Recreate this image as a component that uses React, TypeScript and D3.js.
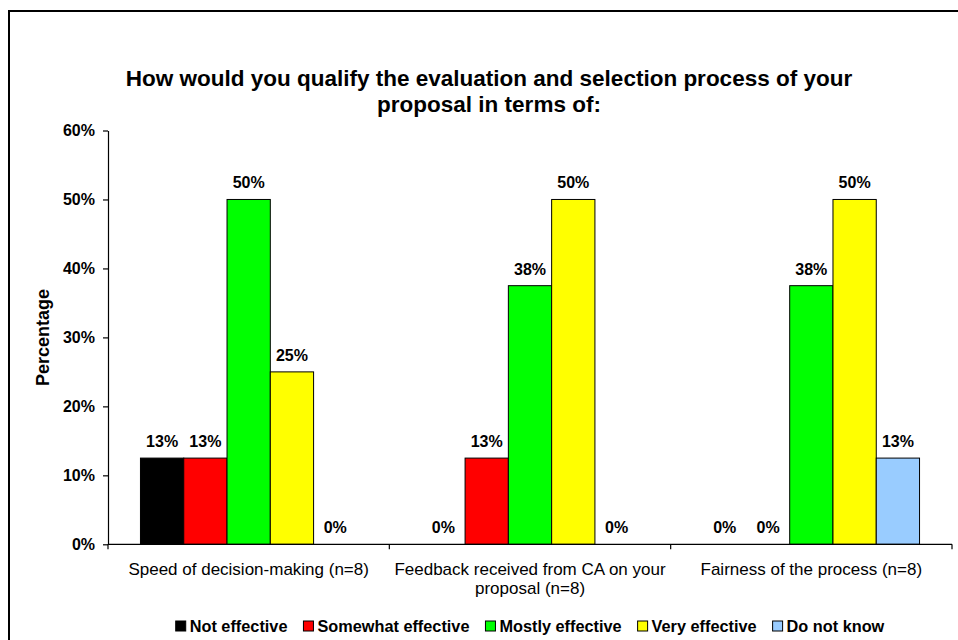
import React, { useEffect, useRef } from "react";
import * as d3 from "d3";

const categories = [
  "Speed of decision-making (n=8)",
  "Feedback received from CA on your proposal (n=8)",
  "Fairness of the process (n=8)",
];
const seriesNames = ["Not effective", "Somewhat effective", "Mostly effective", "Very effective", "Do not know"];
const seriesColors = ["#000000", "#FF0000", "#00FF00", "#FFFF00", "#99CCFF"];
const notEffective = [12.5, 0, 0];
const somewhatEffective = [12.5, 12.5, 0];
const mostlyEffective = [50, 37.5, 37.5];
const veryEffective = [25, 50, 50];
const doNotKnow = [0, 0, 12.5];
const yTicks = [0, 10, 20, 30, 40, 50, 60];
const titleLines = [
  "How would you qualify the evaluation and selection process of your",
  "proposal in terms of:",
];
const yAxisTitle = "Percentage";

const FONT = "'Liberation Sans', Arial, sans-serif";

export default function App() {
  const ref = useRef<SVGSVGElement>(null);

  useEffect(() => {
    const svg = d3.select(ref.current);
    svg.selectAll("*").remove();
    const left = 108, right = 952, top = 130.5, bottom = 544.3;
    const seriesValues = [notEffective, somewhatEffective, mostlyEffective, veryEffective, doNotKnow];

    // chart border
    svg.append("rect").attr("x", 9).attr("y", 11).attr("width", 1000).attr("height", 700)
      .attr("fill", "#fff").attr("stroke", "#000").attr("stroke-width", 2);

    // title
    const title = svg.append("text").attr("text-anchor", "middle").attr("font-family", FONT)
      .attr("font-weight", "bold").attr("font-size", 22.5).attr("fill", "#000");
    titleLines.forEach((t, i) => {
      title.append("tspan").attr("x", 489).attr("y", 86 + i * 26).text(t);
    });

    const x0 = d3.scaleBand<string>().domain(categories).range([left, right]).paddingInner(0).paddingOuter(0);
    const x1 = d3.scaleBand<string>().domain(seriesNames).range([0, x0.bandwidth()]).paddingInner(0).paddingOuter(0.75);
    const y = d3.scaleLinear().domain([0, 60]).range([bottom, top]);

    // bars
    const groups = svg.append("g");
    categories.forEach((cat, ci) => {
      seriesNames.forEach((s, si) => {
        const v = seriesValues[si][ci];
        const bx = (x0(cat) as number) + (x1(s) as number);
        if (v > 0) {
          groups.append("rect")
            .attr("x", bx).attr("y", y(v))
            .attr("width", x1.bandwidth()).attr("height", y(0) - y(v))
            .attr("fill", seriesColors[si]).attr("stroke", "#000").attr("stroke-width", 1);
        }
        groups.append("text")
          .attr("x", bx + x1.bandwidth() / 2).attr("y", y(v) - 11)
          .attr("text-anchor", "middle").attr("font-family", FONT).attr("font-weight", "bold")
          .attr("font-size", 16).attr("fill", "#000")
          .text(Math.round(v) + "%");
      });
    });

    // y axis
    const yAxis = d3.axisLeft(y).tickValues(yTicks).tickSize(5).tickSizeOuter(0).tickPadding(8)
      .tickFormat((d) => d + "%");
    const ya = svg.append("g").attr("transform", `translate(${left},0)`).call(yAxis as any);
    ya.select(".domain").attr("stroke", "#000").attr("stroke-width", 1.2);
    ya.selectAll(".tick line").attr("stroke", "#000").attr("stroke-width", 1.2);
    ya.selectAll(".tick text").attr("font-family", FONT).attr("font-weight", "bold")
      .attr("font-size", 16).attr("fill", "#000");

    // x axis
    const xa = svg.append("g");
    xa.append("line").attr("x1", left).attr("x2", right).attr("y1", bottom).attr("y2", bottom)
      .attr("stroke", "#000").attr("stroke-width", 1.2);
    const bounds = categories.map((c) => x0(c) as number).concat([right]);
    bounds.forEach((bx) => {
      xa.append("line").attr("x1", bx).attr("x2", bx).attr("y1", bottom).attr("y2", bottom + 5)
        .attr("stroke", "#000").attr("stroke-width", 1.2);
    });
    categories.forEach((cat) => {
      const cx = (x0(cat) as number) + x0.bandwidth() / 2;
      const t = xa.append("text").attr("text-anchor", "middle").attr("font-family", FONT)
        .attr("font-size", 17).attr("fill", "#000");
      const words = cat.split(" ");
      const maxW = x0.bandwidth() - 4;
      let line: string[] = [];
      let lineNo = 0;
      let tspan = t.append("tspan").attr("x", cx).attr("y", 575);
      words.forEach((w) => {
        line.push(w);
        tspan.text(line.join(" "));
        if ((tspan.node() as SVGTSpanElement).getComputedTextLength() > maxW && line.length > 1) {
          line.pop();
          tspan.text(line.join(" "));
          line = [w];
          lineNo++;
          tspan = t.append("tspan").attr("x", cx).attr("y", 575 + lineNo * 19).text(w);
        }
      });
    });

    // y axis title
    svg.append("text").attr("transform", `translate(49,${(top + bottom) / 2}) rotate(-90)`)
      .attr("text-anchor", "middle").attr("font-family", FONT).attr("font-weight", "bold")
      .attr("font-size", 18).attr("fill", "#000").text(yAxisTitle);

    // legend
    const lg = svg.append("g");
    const items = seriesNames.map((name, i) => {
      const g = lg.append("g");
      g.append("rect").attr("x", 0).attr("y", 621).attr("width", 10).attr("height", 10)
        .attr("fill", seriesColors[i]).attr("stroke", "#000").attr("stroke-width", 1);
      const tx = g.append("text").attr("x", 14).attr("y", 632).attr("font-family", FONT)
        .attr("font-weight", "bold").attr("font-size", 16.3).attr("fill", "#000").text(name);
      const w = 14 + (tx.node() as SVGTextElement).getComputedTextLength();
      return { g, w };
    });
    const gap = 16;
    const total = d3.sum(items, (d) => d.w) + gap * (items.length - 1);
    let cx = 530 - total / 2;
    items.forEach((it) => {
      it.g.attr("transform", `translate(${cx},0)`);
      cx += it.w + gap;
    });
  }, []);

  return (
    <svg ref={ref} width={958} height={640}
      style={{ position: "absolute", left: 0, top: 0, background: "#fff" }} />
  );
}
